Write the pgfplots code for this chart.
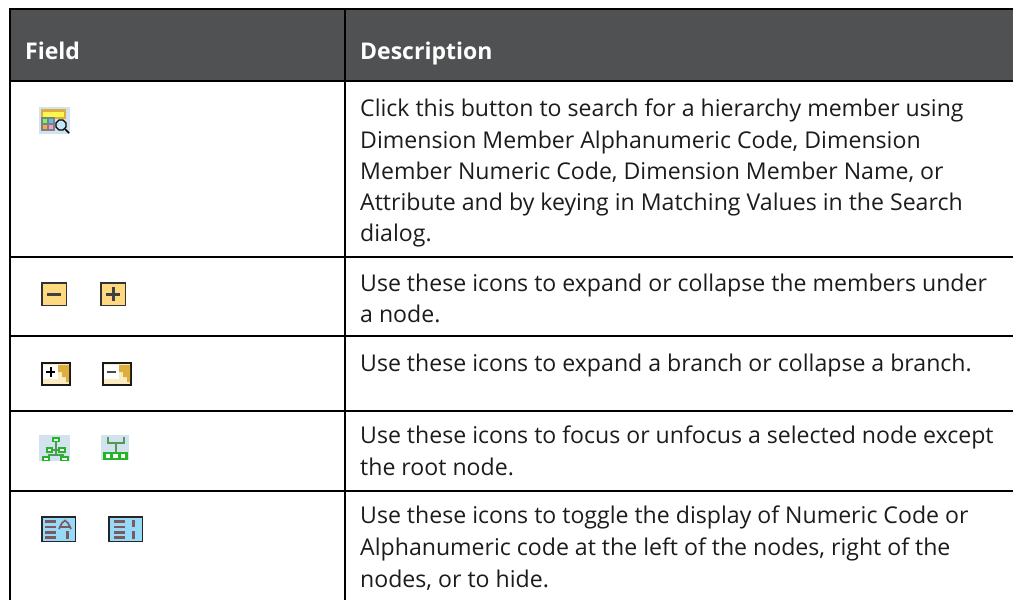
\documentclass[border=0pt]{standalone}
\usepackage{pgfplots}
\usepackage{fontspec}
\setmainfont{Open Sans}
\pgfplotsset{compat=1.18}
\definecolor{hdr}{HTML}{505153}
\definecolor{txt}{HTML}{1C1C1C}
\definecolor{pale}{HTML}{D2E2EE}
\definecolor{gold}{HTML}{FFD97F}
\definecolor{ochre}{HTML}{DDAE3E}
\definecolor{cream}{HTML}{FBEBC0}
\definecolor{sky}{HTML}{97D9F8}
\definecolor{rib}{HTML}{7A5A5F}
\definecolor{grn}{HTML}{22B525}
\definecolor{dgrn}{HTML}{4F9B52}
\newcommand{\R}[5]{\addplot[fill=#5,draw=none,forget plot] coordinates {(#1,#2) (#3,#2) (#3,#4) (#1,#4)} -- cycle;}
\newcommand{\B}[3]{\node[anchor=base west,inner sep=0pt,text=txt,font=\fontsize{23.1}{28}\selectfont] at (axis cs:#1,#2) {#3};}
\newcommand{\HL}[1]{\addplot[black,line width=1.7pt,forget plot] coordinates {(10,#1) (1013,#1)};}
\newcommand{\GB}[4]{\R{#1}{#2}{#3}{#4}{grn}}
\begin{document}
\begin{tikzpicture}
\begin{axis}[
  width=1013pt,height=600pt,scale only axis,
  xmin=0,xmax=1013,ymin=0,ymax=600,y dir=reverse,
  hide axis,clip=true,
  enlargelimits=false]
% canvas
\addplot[fill=white,draw=none,forget plot] coordinates {(0,0) (1013,0) (1013,600) (0,600)} -- cycle;
% header
\R{10}{9}{1013}{81}{hdr}
% rules
\addplot[black,line width=1.7pt,forget plot] coordinates {(10,600) (10,9) (1013,9)};
\addplot[black,line width=1.5pt,forget plot] coordinates {(345,9) (345,600)};
\HL{81}\HL{257}\HL{336}\HL{411}\HL{491}
% header text
\node[anchor=base west,inner sep=0pt,text=white,font=\fontsize{23}{28}\selectfont\bfseries] at (axis cs:25,59) {Field};
\node[anchor=base west,inner sep=0pt,text=white,font=\fontsize{23}{28}\selectfont\bfseries] at (axis cs:360,59) {Description};
% body text
\B{360}{116}{Click this button to search for a hierarchy member using}
\B{360}{148}{Dimension Member Alphanumeric Code, Dimension}
\B{360}{179}{Member Numeric Code, Dimension Member Name, or}
\B{360}{210}{Attribute and by keying in Matching Values in the Search}
\B{360}{241}{dialog.}
\B{360}{291}{Use these icons to expand or collapse the members under}
\B{360}{322}{a node.}
\B{360}{371}{Use these icons to expand a branch or collapse a branch.}
\B{360}{443}{Use these icons to focus or unfocus a selected node except}
\B{360}{475}{the root node.}
\B{360}{523}{Use these icons to toggle the display of Numeric Code or}
\B{360}{555}{Alphanumeric code at the left of the nodes, right of the}
\B{360}{587}{nodes, or to hide.}
% icon 1: search grid
\R{39}{107}{70}{134}{pale}
\R{41}{109}{66}{119}{ochre}
\R{43}{111.5}{64}{117}{yellow!70!white}
\R{41}{117}{55}{131}{gray}
\R{43}{118.5}{47}{122.5}{green!60!white}
\R{49}{118.5}{53}{122.5}{cyan!70!white}
\R{43}{125}{47}{129}{orange!70!white}
\R{49}{125}{53}{129}{magenta!40!white}
\addplot[black,line width=1.1pt,fill=sky!60!white,forget plot] coordinates {(59,120) (63,120) (66,123) (66,127) (63,130) (59,130) (56,127) (56,123)} -- cycle;
\addplot[black,line width=1.6pt,forget plot] coordinates {(65,129) (69,133)};
% minus / plus
\R{41}{282}{67}{306}{black!80}
\R{42.5}{283.5}{65.5}{304.5}{gold}
\R{47}{293}{61}{296}{black!75}
\R{100}{282}{126}{306}{black!80}
\R{101.5}{283.5}{124.5}{304.5}{gold}
\R{106}{293}{120}{296}{black!75}
\R{111.5}{287}{114.5}{301}{black!75}
% branch plus
\R{41}{362}{71}{386}{black!90}
\R{43}{364}{69}{384}{cream}
\R{43}{365}{58}{379}{white}
\addplot[fill=ochre,draw=none,forget plot] coordinates {(58,365) (69,365) (69,382) (66,382) (66,377) (62,377) (62,372) (58,372)} -- cycle;
\R{46}{371}{55}{373}{black}
\R{49.5}{367}{51.5}{377}{black}
% branch minus
\R{102}{362}{132}{386}{black!90}
\R{104}{364}{130}{384}{cream}
\R{104}{365}{119}{379}{white}
\addplot[fill=ochre,draw=none,forget plot] coordinates {(119,365) (130,365) (130,382) (127,382) (127,377) (123,377) (123,372) (119,372)} -- cycle;
\R{107}{371}{116}{373}{black!70}
% focus
\R{39}{435}{70}{461}{pale}
\R{55}{441}{57}{456}{dgrn}
\R{48}{453.5}{64}{455.5}{dgrn}
\R{52}{449}{59}{451}{dgrn}
\GB{52}{437}{60}{442}
\R{54}{438.5}{58}{440.5}{white}
\GB{46}{447}{53}{453}
\R{48}{449}{51}{451}{white}
\GB{58}{447}{66}{453}
\R{60}{449}{64}{451}{white}
\GB{42}{456}{50}{461}
\R{44}{457.5}{48}{459.5}{white}
\GB{60}{456}{69}{461}
\R{62}{457.5}{67}{459.5}{white}
% unfocus
\R{101}{435}{129}{460}{pale}
\R{107}{437}{109}{443}{dgrn}
\R{123}{437}{125}{443}{dgrn}
\R{107}{442}{125}{444}{dgrn}
\R{115}{444}{117}{452}{dgrn}
\R{103}{452}{128}{460}{grn}
\R{106}{454}{110}{458}{white}
\R{113}{454}{118}{458}{white}
\R{120.5}{454}{125}{458}{white}
% numeric left
\R{41}{516}{76}{542}{black!85}
\R{42.5}{517.5}{74.5}{540.5}{sky}
\R{45}{520}{56}{522.5}{rib}
\R{45}{525.5}{56}{528}{rib}
\R{45}{531}{56}{533.5}{rib}
\R{45}{536}{56}{538.5}{rib}
\addplot[rib,line width=1.6pt,forget plot] coordinates {(59,529) (62,523) (65,520.5) (68,523) (71,529)};
\addplot[rib,line width=1.2pt,forget plot] coordinates {(59,527) (71,527)};
\R{66}{531}{68.5}{538.5}{rib}
% numeric right
\R{108}{516}{143}{542}{black!85}
\R{109.5}{517.5}{141.5}{540.5}{sky}
\R{114}{520}{125}{522.5}{rib}
\R{114}{525.5}{125}{528}{rib}
\R{114}{531}{125}{533.5}{rib}
\R{114}{536}{125}{538.5}{rib}
\R{132}{520}{134.5}{527}{rib}
\R{132}{531}{134.5}{538.5}{rib}
\end{axis}
\end{tikzpicture}
\end{document}
